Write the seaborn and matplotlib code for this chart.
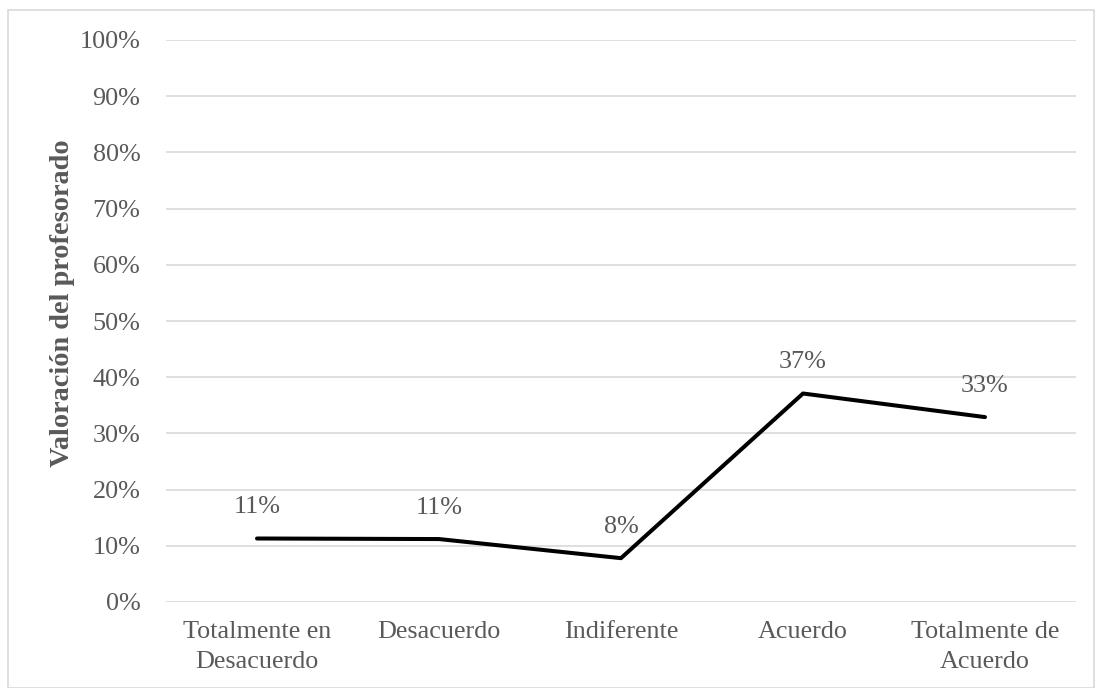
import matplotlib
matplotlib.use("Agg")
import matplotlib.pyplot as plt
import seaborn as sns
import pandas as pd
from matplotlib.patches import Rectangle
from matplotlib.ticker import FuncFormatter

categories = ["Totalmente en\nDesacuerdo", "Desacuerdo", "Indiferente", "Acuerdo", "Totalmente de\nAcuerdo"]
values = [11.3, 11.2, 7.8, 37.1, 32.9]
labels = ["11%", "11%", "8%", "37%", "33%"]
yticks = [0, 10, 20, 30, 40, 50, 60, 70, 80, 90, 100]

sns.set_theme(style="white")
plt.rcParams["font.family"] = ["Liberation Serif", "DejaVu Serif"]

txt = "#595959"
fs = 18.8
fig = plt.figure(figsize=(10.95, 6.88), dpi=100)
W, H = 1095, 688
ax = fig.add_axes([166 / W, (H - 602) / H, (1076 - 166) / W, (602 - 40) / H])

df = pd.DataFrame({"cat": range(len(categories)), "val": values})
sns.lineplot(data=df, x="cat", y="val", ax=ax, color="black", linewidth=2.9)

ax.set_xlim(-0.5, len(categories) - 0.5)
ax.set_ylim(0, 100)
ax.set_yticks(yticks)
ax.yaxis.set_major_formatter(FuncFormatter(lambda v, p: f"{v:.0f}%"))
ax.set_xticks(range(len(categories)))
ax.set_xticklabels(categories, linespacing=1.45)
ax.tick_params(axis="y", length=0, pad=18.5, labelsize=fs, labelcolor=txt)
ax.tick_params(axis="x", length=0, pad=14, labelsize=fs, labelcolor=txt)
ax.grid(axis="y", color="#d9d9d9", linewidth=1.2)
ax.set_axisbelow(True)
for s in ax.spines.values():
    s.set_visible(False)
ax.set_xlabel("")
ax.set_ylabel("Valoración del profesorado", fontsize=20.3, fontweight="bold", color=txt)
ax.yaxis.set_label_coords(-0.1, 0.532)

for i, (v, lab) in enumerate(zip(values, labels)):
    ax.annotate(lab, (i, v), xytext=(0, 22.5), textcoords="offset points",
                ha="center", va="center", fontsize=fs, color=txt)

fig.patches.append(Rectangle((8 / W, 0.5 / H), (1094 - 8) / W, (H - 10 - 0.5) / H,
                             transform=fig.transFigure, fill=False,
                             edgecolor="#d9d9d9", linewidth=1.2))

fig.savefig("out.png", dpi=100, facecolor="white")
